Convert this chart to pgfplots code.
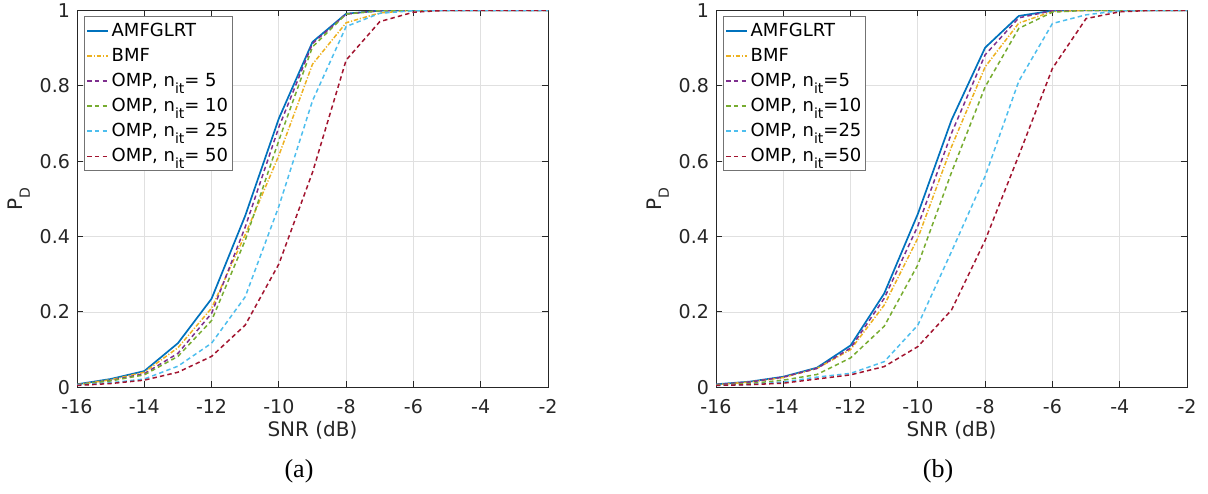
\documentclass[border=0pt]{standalone}
\usepackage{fontspec}
\setmainfont{DejaVu Sans}
\newfontfamily\capfont{Liberation Serif}
\usepackage{pgfplots}
\pgfplotsset{compat=1.18}

\definecolor{mblue}{rgb}{0,0.447,0.741}
\definecolor{morange}{rgb}{0.929,0.694,0.125}
\definecolor{mpurple}{rgb}{0.494,0.184,0.556}
\definecolor{mgreen}{rgb}{0.466,0.674,0.188}
\definecolor{mcyan}{rgb}{0.301,0.745,0.933}
\definecolor{mred}{rgb}{0.635,0.078,0.184}
\definecolor{axgray}{rgb}{0.15,0.15,0.15}

\newcommand{\sub}[1]{\raisebox{-3.5pt}{\fontsize{7}{8}\selectfont #1}}
\newcommand{\nit}{n\sub{it}}

\pgfplotsset{
  pdplot/.style={
    scale only axis, width=235.5pt, height=188.5pt,
    xmin=-16, xmax=-2, ymin=0, ymax=1,
    xtick={-16,-14,-12,-10,-8,-6,-4,-2},
    ytick={0,0.2,0.4,0.6,0.8,1},
    /pgf/number format/assume math mode=true,
    ticklabel style={font=\fontsize{9.5}{11}\selectfont, text=axgray},
    xticklabel style={yshift=-2.5pt},
    grid=major,
    major grid style={line width=0.4pt, color=black!12},
    axis line style={axgray, line width=0.5pt},
    tick style={axgray, line width=0.5pt},
    tick align=inside, major tick length=3pt,
    xlabel={SNR (dB)}, ylabel={P\sub{D}},
    label style={font=\fontsize{10}{12}\selectfont, text=axgray},
    xlabel style={at={(axis description cs:0.5,-0.114)}, anchor=center},
    ylabel style={at={(axis description cs:-0.123,0.5)}, anchor=center},
    legend style={at={(axis description cs:0.015,0.984)}, anchor=north west,
      draw=black!55, font=\fontsize{9}{10}\selectfont,
      inner sep=1pt, row sep=0.4pt, cells={anchor=west},
      nodes={inner xsep=1.2pt}},
    legend image code/.code={\draw[#1, line width=0.9pt] (0pt,0pt) -- (10.5pt,0pt);},
  },
  dsh/.style={line width=0.75pt, dash pattern=on 2.2pt off 1.6pt},
  dshdot/.style={line width=0.75pt, dash pattern=on 2.2pt off 0.9pt on 0.6pt off 0.9pt},
  sld/.style={line width=0.85pt},
}

\begin{document}
\begin{tikzpicture}
\path[use as bounding box] (-38.5pt,-52.85pt) rectangle (565.5pt,193.65pt);

% (a)
\begin{axis}[pdplot, at={(0pt,0pt)}, anchor=south west]
\addplot[mblue, sld] coordinates {(-16,0.008)(-15,0.022)(-14,0.043)(-13,0.117)(-12,0.235)(-11,0.455)(-10,0.713)(-9,0.916)(-8,0.991)(-7,0.999)(-6,1)(-5,1)(-4,1)(-3,1)(-2,1)};
\addplot[morange, dshdot] coordinates {(-16,0.007)(-15,0.020)(-14,0.040)(-13,0.105)(-12,0.210)(-11,0.405)(-10,0.615)(-9,0.857)(-8,0.967)(-7,0.993)(-6,1)(-5,1)(-4,1)(-3,1)(-2,1)};
\addplot[mpurple, dsh] coordinates {(-16,0.007)(-15,0.018)(-14,0.036)(-13,0.090)(-12,0.196)(-11,0.425)(-10,0.690)(-9,0.912)(-8,0.990)(-7,0.999)(-6,1)(-5,1)(-4,1)(-3,1)(-2,1)};
\addplot[mgreen, dsh] coordinates {(-16,0.007)(-15,0.017)(-14,0.033)(-13,0.082)(-12,0.177)(-11,0.390)(-10,0.655)(-9,0.903)(-8,0.990)(-7,0.999)(-6,1)(-5,1)(-4,1)(-3,1)(-2,1)};
\addplot[mcyan, dsh] coordinates {(-16,0.006)(-15,0.012)(-14,0.022)(-13,0.056)(-12,0.117)(-11,0.240)(-10,0.480)(-9,0.760)(-8,0.957)(-7,0.992)(-6,0.999)(-5,1)(-4,1)(-3,1)(-2,1)};
\addplot[mred, dsh] coordinates {(-16,0.005)(-15,0.010)(-14,0.019)(-13,0.040)(-12,0.082)(-11,0.165)(-10,0.327)(-9,0.570)(-8,0.868)(-7,0.970)(-6,0.995)(-5,1)(-4,1)(-3,1)(-2,1)};
\legend{AMFGLRT, BMF, {OMP, \nit= 5}, {OMP, \nit= 10}, {OMP, \nit= 25}, {OMP, \nit= 50}}
\end{axis}

% (b)
\begin{axis}[pdplot, at={(319.5pt,0pt)}, anchor=south west]
\addplot[mblue, sld] coordinates {(-16,0.008)(-15,0.015)(-14,0.028)(-13,0.052)(-12,0.111)(-11,0.249)(-10,0.460)(-9,0.709)(-8,0.901)(-7,0.985)(-6,0.999)(-5,1)(-4,1)(-3,1)(-2,1)};
\addplot[morange, dshdot] coordinates {(-16,0.007)(-15,0.014)(-14,0.026)(-13,0.050)(-12,0.100)(-11,0.218)(-10,0.396)(-9,0.638)(-8,0.850)(-7,0.966)(-6,0.997)(-5,1)(-4,1)(-3,1)(-2,1)};
\addplot[mpurple, dsh] coordinates {(-16,0.007)(-15,0.014)(-14,0.027)(-13,0.050)(-12,0.104)(-11,0.236)(-10,0.428)(-9,0.674)(-8,0.882)(-7,0.980)(-6,0.999)(-5,1)(-4,1)(-3,1)(-2,1)};
\addplot[mgreen, dsh] coordinates {(-16,0.006)(-15,0.010)(-14,0.019)(-13,0.034)(-12,0.078)(-11,0.162)(-10,0.325)(-9,0.570)(-8,0.797)(-7,0.952)(-6,0.995)(-5,1)(-4,1)(-3,1)(-2,1)};
\addplot[mcyan, dsh] coordinates {(-16,0.005)(-15,0.007)(-14,0.014)(-13,0.027)(-12,0.037)(-11,0.068)(-10,0.165)(-9,0.360)(-8,0.560)(-7,0.812)(-6,0.965)(-5,0.988)(-4,0.999)(-3,1)(-2,1)};
\addplot[mred, dsh] coordinates {(-16,0.005)(-15,0.007)(-14,0.011)(-13,0.022)(-12,0.033)(-11,0.055)(-10,0.108)(-9,0.205)(-8,0.390)(-7,0.615)(-6,0.846)(-5,0.978)(-4,0.996)(-3,1)(-2,1)};
\legend{AMFGLRT, BMF, {OMP, \nit=5}, {OMP, \nit=10}, {OMP, \nit=25}, {OMP, \nit=50}}
\end{axis}

\node[font=\capfont\fontsize{13}{15}\selectfont] at (111pt,-42pt) {(a)};
\node[font=\capfont\fontsize{13}{15}\selectfont] at (430.5pt,-42pt) {(b)};
\end{tikzpicture}
\end{document}
